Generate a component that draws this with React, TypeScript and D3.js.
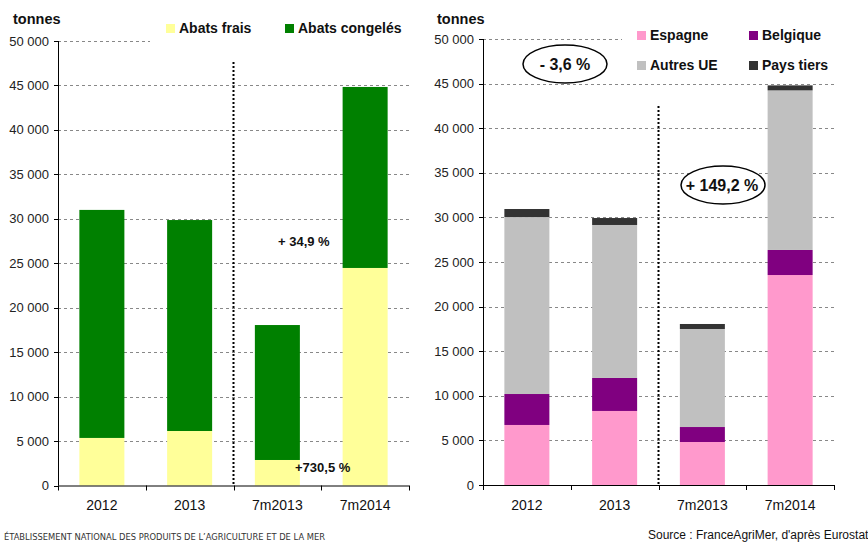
import React from "react";
import * as d3 from "d3";

const categories = ["2012", "2013", "7m2013", "7m2014"];
const abatsFrais = [5350, 6130, 2870, 24470];
const abatsCongeles = [25650, 23730, 15180, 20360];

const espagne = [6730, 8300, 4820, 23540];
const belgique = [3470, 3700, 1680, 2810];
const autresUE = [19840, 17150, 10990, 17890];
const paysTiers = [900, 780, 560, 560];

const yTicks = [0, 5000, 10000, 15000, 20000, 25000, 30000, 35000, 40000, 45000, 50000];

const leftSeries = [
  { key: "frais", label: "Abats frais", values: abatsFrais, color: "#FFFF99" },
  { key: "congeles", label: "Abats congelés", values: abatsCongeles, color: "#008000" },
];
const rightSeries = [
  { key: "espagne", label: "Espagne", values: espagne, color: "#FF99CC" },
  { key: "belgique", label: "Belgique", values: belgique, color: "#800080" },
  { key: "autres", label: "Autres UE", values: autresUE, color: "#C0C0C0" },
  { key: "tiers", label: "Pays tiers", values: paysTiers, color: "#333333" },
];

const FONT = "'Liberation Sans', Arial, sans-serif";
const fmt = (v: number) => (v === 0 ? "0" : d3.format(",")(v).replace(/,/g, " "));

type Series = { key: string; label: string; values: number[]; color: string };

function Panel({ x0, x1, y0, y1, series, dividerTop }: { x0: number; x1: number; y0: number; y1: number; series: Series[]; dividerTop: number }) {
  const x = d3.scaleBand<string>().domain(categories).range([x0, x1]).paddingInner(0.487).paddingOuter(0.2435);
  const y = d3.scaleLinear().domain([0, 50000]).range([y0, y1]);
  const rows = categories.map((c, i) => {
    const r: any = { cat: c };
    series.forEach((s) => (r[s.key] = s.values[i]));
    return r;
  });
  const stacked = d3.stack<any>().keys(series.map((s) => s.key))(rows);
  const step = x.step();
  const boundaries = d3.range(categories.length + 1).map((i) => x0 + i * step);
  return (
    <g>
      {yTicks.filter((t) => t > 0).map((t) => (
        <line key={t} x1={x0} x2={x1} y1={Math.round(y(t)) + 0.5} y2={Math.round(y(t)) + 0.5} stroke="#888" strokeWidth={1} strokeDasharray="3,3" />
      ))}
      {stacked.map((layer, li) => (
        <g key={layer.key}>
          {layer.map((d, i) => (
            <rect key={i} x={x(categories[i])} width={x.bandwidth()} y={y(d[1])} height={y(d[0]) - y(d[1])} fill={series[li].color} />
          ))}
        </g>
      ))}
      <line x1={x0 + 0.5} x2={x0 + 0.5} y1={y1} y2={y0} stroke="#000" strokeWidth={1} />
      <line x1={x0} x2={x1} y1={y0 + 0.5} y2={y0 + 0.5} stroke="#000" strokeWidth={1} />
      {yTicks.map((t) => (
        <g key={t}>
          <line x1={x0 - 4} x2={x0} y1={Math.round(y(t)) + 0.5} y2={Math.round(y(t)) + 0.5} stroke="#000" />
          <text x={x0 - 9} y={y(t)} dy="0.35em" textAnchor="end" fontSize={13} fill="#222" fontFamily={FONT}>{fmt(t)}</text>
        </g>
      ))}
      {boundaries.map((b, i) => (
        <line key={i} x1={Math.round(b) + 0.5} x2={Math.round(b) + 0.5} y1={y0} y2={y0 + 5} stroke="#000" />
      ))}
      {categories.map((c) => (
        <text key={c} x={(x(c) as number) + x.bandwidth() / 2} y={y0 + 20} dy="0.35em" textAnchor="middle" fontSize={14} fill="#111" fontFamily={FONT}>{c}</text>
      ))}
      <line x1={boundaries[2]} x2={boundaries[2]} y1={dividerTop} y2={y0} stroke="#000" strokeWidth={2} strokeDasharray="2,2" />
    </g>
  );
}

export default function App() {
  return (
    <svg width={868} height={542} style={{ position: "absolute", left: 0, top: 0, background: "#fff" }} fontFamily={FONT}>
      <rect width={868} height={542} fill="#fff" />
      <Panel x0={58} x1={409} y0={485.5} y1={41} series={leftSeries} dividerTop={62} />
      <Panel x0={483} x1={834} y0={485} y1={39} series={rightSeries} dividerTop={106} />

      {/* left legend */}
      <rect x={150} y={30} width={259} height={20} fill="#fff" />
      <text x={13} y={19} dy="0.35em" fontSize={14.5} fontWeight="bold" fill="#111">tonnes</text>
      {leftSeries.map((s, i) => (
        <g key={s.key}>
          <rect x={166 + i * 119} y={24} width={9} height={9} fill={s.color} />
          <text x={179 + i * 119} y={28.5} dy="0.35em" fontSize={14} fontWeight="bold" fill="#111">{s.label}</text>
        </g>
      ))}
      <text x={278} y={241} dy="0.35em" fontSize={13} fontWeight="bold" fill="#111">+ 34,9 %</text>
      <text x={295} y={467} dy="0.35em" fontSize={13} fontWeight="bold" fill="#111">+730,5 %</text>

      {/* right legend */}
      <rect x={622} y={28} width={212} height={18} fill="#fff" />
      <text x={437} y={19} dy="0.35em" fontSize={14.5} fontWeight="bold" fill="#111">tonnes</text>
      {rightSeries.map((s, i) => (
        <g key={s.key}>
          <rect x={637 + (i % 2) * 112} y={31 + Math.floor(i / 2) * 30} width={9} height={9} fill={s.color} />
          <text x={650 + (i % 2) * 112} y={35.5 + Math.floor(i / 2) * 30} dy="0.35em" fontSize={14} fontWeight="bold" fill="#111">{s.label}</text>
        </g>
      ))}
      <ellipse cx={565} cy={64} rx={42} ry={19} fill="#fff" stroke="#000" strokeWidth={1.5} />
      <text x={565} y={64} dy="0.35em" textAnchor="middle" fontSize={16} fontWeight="bold" fill="#111">- 3,6 %</text>
      <ellipse cx={723} cy={185} rx={42} ry={19} fill="#fff" stroke="#000" strokeWidth={1.5} />
      <text x={722} y={185} dy="0.35em" textAnchor="middle" fontSize={16} fontWeight="bold" fill="#111">+ 149,2 %</text>

      {/* footers */}
      <text x={4} y={537} dy="0.35em" fontSize={9} fill="#333" fontFamily="'DejaVu Sans Condensed', 'DejaVu Sans', sans-serif" textLength={321} lengthAdjust="spacingAndGlyphs">ÉTABLISSEMENT NATIONAL DES PRODUITS DE L’AGRICULTURE ET DE LA MER</text>
      <text x={648} y={535} dy="0.35em" fontSize={12} fill="#111">Source : FranceAgriMer, d'après Eurostat</text>
    </svg>
  );
}
